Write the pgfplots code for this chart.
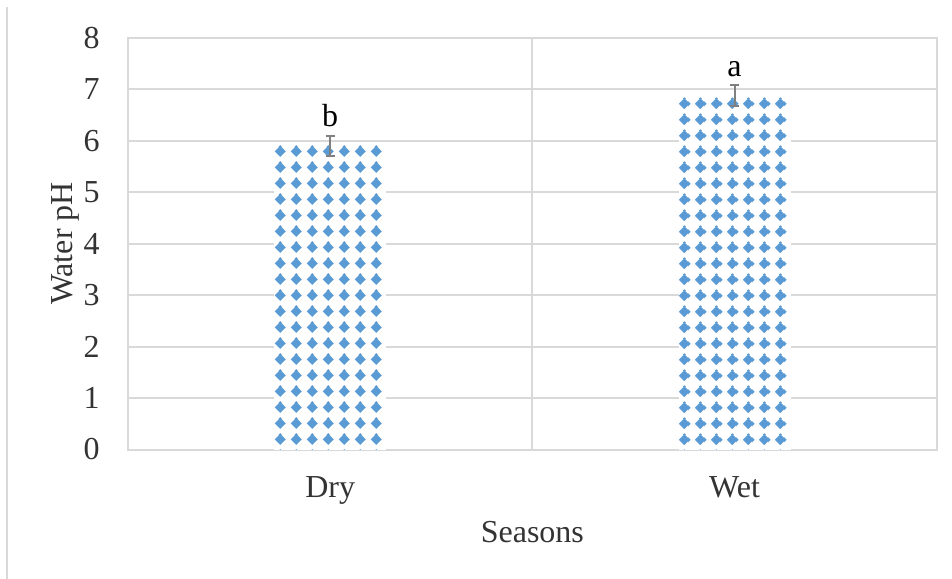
\documentclass[border=0pt]{standalone}
\usepackage{fontspec}
\setmainfont{Liberation Serif}
\usepackage{pgfplots}
\pgfplotsset{compat=1.18}
\usetikzlibrary{patterns}
\definecolor{barblue}{HTML}{5B9BD5}
\definecolor{gridgray}{HTML}{D9D9D9}
\definecolor{errgray}{HTML}{808080}
\definecolor{labgray}{HTML}{333333}
% diamond centred at (#1,#2) bp with half-size 2.9bp
\newcommand\diam[2]{%
  \pgfpathmoveto{\pgfqpoint{#1bp}{\dimexpr#2bp-2.9bp\relax}}%
  \pgfpathlineto{\pgfqpoint{\dimexpr#1bp+2.9bp\relax}{#2bp}}%
  \pgfpathlineto{\pgfqpoint{#1bp}{\dimexpr#2bp+2.9bp\relax}}%
  \pgfpathlineto{\pgfqpoint{\dimexpr#1bp-2.9bp\relax}{#2bp}}%
  \pgfpathclose}
\pgfdeclarepatternformonly{diamdry}{\pgfqpoint{0bp}{0bp}}{\pgfqpoint{8bp}{8bp}}{\pgfqpoint{8bp}{8bp}}{%
  \diam{4.35}{6.15}\diam{4.35}{-1.85}%
  \pgfusepath{fill}}
\pgfdeclarepatternformonly{diamwet}{\pgfqpoint{0bp}{0bp}}{\pgfqpoint{8bp}{8bp}}{\pgfqpoint{8bp}{8bp}}{%
  \diam{6.5}{6.0}\diam{-1.5}{6.0}\diam{6.5}{-2.0}\diam{-1.5}{-2.0}%
  \pgfusepath{fill}}
\begin{document}
\begin{tikzpicture}
\useasboundingbox (0,0) rectangle (476bp,289.5bp);
\draw[gridgray, line width=1bp] (3.5bp,0) -- (3.5bp,286bp);
\begin{axis}[
  at={(64bp,64.75bp)}, anchor=south west,
  scale only axis, width=404.35bp, height=205.9bp,
  xmin=-0.5, xmax=1.5, ymin=0, ymax=8,
  xtick={0,1}, xticklabels={Dry,Wet},
  ytick={0,1,2,3,4,5,6,7,8},
  minor xtick={0.5}, xminorgrids, ymajorgrids,
  major tick length=0pt, minor tick length=0pt,
  tick style={draw=none},
  axis line style={gridgray, line width=1bp},
  grid style={gridgray, line width=1bp},
  minor grid style={gridgray, line width=1bp},
  /pgf/number format/assume math mode=true,
  ticklabel style={font=\fontsize{16bp}{19bp}\selectfont, text=labgray},
  yticklabel style={anchor=east, inner sep=0pt, xshift=-14bp},
  xticklabel style={anchor=base, inner sep=0pt, yshift=-24.1bp},
  xlabel={Seasons}, ylabel={Water pH},
  label style={font=\fontsize{16bp}{19bp}\selectfont, text=labgray, inner sep=0pt},
  xlabel style={at={(axis description cs:0.5,-0.2263)}, anchor=base},
  ylabel style={at={(axis description cs:-0.06925,0.5)}, anchor=base, rotate=0},
  error bars/error bar style={errgray, line width=1bp},
  error bars/error mark options={rotate=90, mark size=2.2bp, errgray, line width=1bp},
]
\addplot[ybar, bar shift=0pt, bar width=56bp, draw=none, fill=white,
  postaction={pattern=diamdry, pattern color=barblue},
  error bars/.cd, y dir=both, y explicit]
  coordinates {(0,5.9) +- (0,0.2)};
\addplot[ybar, bar shift=0pt, bar width=56bp, draw=none, fill=white,
  postaction={pattern=diamwet, pattern color=barblue},
  error bars/.cd, y dir=both, y explicit]
  coordinates {(1,6.88) +- (0,0.2)};
\node[anchor=base, font=\fontsize{16bp}{19bp}\selectfont, inner sep=0pt] at (axis cs:0,6.27) {b};
\node[anchor=base, font=\fontsize{16bp}{19bp}\selectfont, inner sep=0pt] at (axis cs:1,7.24) {a};
\end{axis}
\end{tikzpicture}
\end{document}
